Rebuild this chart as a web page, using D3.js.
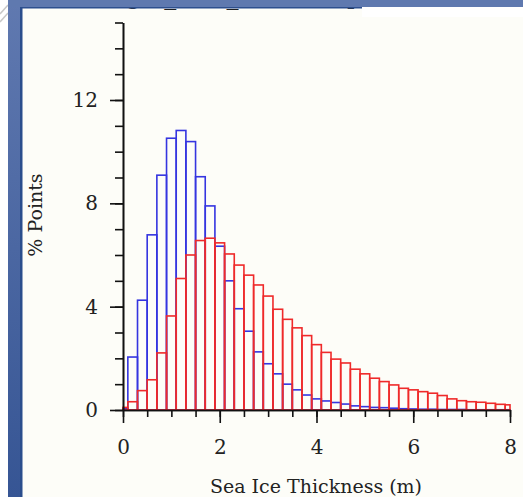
<!DOCTYPE html>
<html>
<head>
<meta charset="utf-8">
<script src="https://cdn.jsdelivr.net/npm/d3@7"></script>
<style>
  body { margin: 0; background: #fff; }
  svg { display: block; }
</style>
</head>
<body>
<div id="main"></div>
<script>
// histogram bins: centres every 0.2 m, from 0 to 8
var binCentres = d3.range(41).map(function (k) { return +(k * 0.2).toFixed(1); });
var bluePct = [0.05, 2.05, 4.25, 6.78, 9.09, 10.52, 10.82, 10.39, 9.03, 7.9,
  6.34, 5.0, 3.92, 3.05, 2.25, 1.79, 1.40, 1.00, 0.78, 0.58,
  0.43, 0.35, 0.29, 0.23, 0.16, 0.13, 0.10, 0.09, 0.07, 0.05,
  0.04, 0.03, 0.03, 0.02, 0.02, 0.02, 0.01, 0.01, 0.01, 0.01, 0.01];
var redPct = [0.10, 0.32, 0.75, 1.17, 2.21, 3.64, 5.09, 6.00, 6.56, 6.65,
  6.47, 6.04, 5.61, 5.22, 4.84, 4.41, 3.90, 3.51, 3.18, 2.88,
  2.53, 2.23, 1.97, 1.82, 1.58, 1.40, 1.23, 1.10, 0.97, 0.84,
  0.78, 0.71, 0.65, 0.56, 0.43, 0.36, 0.32, 0.30, 0.26, 0.22, 0.20];
var xMajorTicks = [0, 2, 4, 6, 8];
var yMajorTicks = [0, 4, 8, 12];
var titleText = "Avg h_CS2_ICE Comp";
var xTitle = "Sea Ice Thickness (m)";
var yTitle = "% Points";

var width = 523, height = 497;
var svg = d3.select("#main").append("svg")
  .attr("width", width).attr("height", height);

var fontFam = "'DejaVu Serif', serif";
var binW = 0.2;

// panel background
svg.append("rect")
  .attr("x", 22).attr("y", 0).attr("width", width - 22).attr("height", height)
  .style("fill", "#fdfdf8");
svg.append("rect")
  .attr("x", 362).attr("y", 7).attr("width", width - 362).attr("height", 10)
  .style("fill", "#ffffff");

var x = d3.scaleLinear().domain([0, 8]).range([123, 510]);
var y = d3.scaleLinear().domain([0, 15]).range([410, 22.5]);

// title (mostly hidden under the frame)
svg.append("text")
  .text(titleText)
  .attr("x", 96).attr("y", 4)
  .style("font-family", fontFam)
  .style("font-size", "24px")
  .attr("fill", "#222");

function drawHist(values, colour) {
  var g = svg.append("g");
  g.selectAll("rect")
    .data(values.map(function (v, i) { return {c: binCentres[i], v: v}; }))
    .enter().append("rect")
    .attr("x", function (d) { return x(Math.max(0, d.c - binW / 2)); })
    .attr("width", function (d) {
      return x(Math.min(8, d.c + binW / 2)) - x(Math.max(0, d.c - binW / 2));
    })
    .attr("y", function (d) { return y(d.v); })
    .attr("height", function (d) { return y(0) - y(d.v); })
    .style("fill", "none")
    .style("stroke", colour)
    .style("stroke-width", 1.6);
}
drawHist(bluePct, "#3535e0");
drawHist(redPct, "#ef2a2a");

// axes
function styleAxis(g) {
  g.selectAll("path, line").style("stroke", "#111").style("stroke-width", 1.6);
  g.selectAll("text")
    .style("font-family", fontFam)
    .style("font-size", "20px")
    .attr("fill", "#222");
}

var yMinor = svg.append("g").attr("transform", "translate(123,0)")
  .call(d3.axisLeft(y).tickValues(d3.range(0, 16)).tickSize(8).tickSizeOuter(0).tickFormat(""));
var yMajor = svg.append("g").attr("transform", "translate(123,0)")
  .call(d3.axisLeft(y).tickValues(yMajorTicks).tickSize(13).tickSizeOuter(0).tickPadding(12));
var xMinor = svg.append("g").attr("transform", "translate(0,410)")
  .call(d3.axisBottom(x).tickValues(d3.range(0, 8.01, 0.5)).tickSize(7).tickSizeOuter(0).tickFormat(""));
var xMajor = svg.append("g").attr("transform", "translate(0,410)")
  .call(d3.axisBottom(x).tickValues(xMajorTicks).tickSize(13).tickSizeOuter(0).tickPadding(17));
[yMinor, yMajor, xMinor, xMajor].forEach(styleAxis);

svg.append("text")
  .text(xTitle)
  .attr("x", 316).attr("y", 493)
  .attr("text-anchor", "middle")
  .style("font-family", fontFam)
  .style("font-size", "19px")
  .attr("fill", "#222");
svg.append("text")
  .text(yTitle)
  .attr("transform", "translate(42,215) rotate(-90)")
  .attr("text-anchor", "middle")
  .style("font-family", fontFam)
  .style("font-size", "19px")
  .attr("fill", "#222");

// slide frame
var defs = svg.append("defs");
var grad = defs.append("linearGradient").attr("id", "frameGrad")
  .attr("x1", 0).attr("y1", 0).attr("x2", 0).attr("y2", 1);
grad.append("stop").attr("offset", 0).attr("stop-color", "#6079b0");
grad.append("stop").attr("offset", 1).attr("stop-color", "#365594");

svg.append("rect").attr("x", 0).attr("y", 0).attr("width", 8).attr("height", height)
  .style("fill", "#ffffff");
[[0, 14, 8, 5], [0, 22, 8, 13]].forEach(function (s) {
  svg.append("line")
    .attr("x1", s[0]).attr("y1", s[1]).attr("x2", s[2]).attr("y2", s[3])
    .style("stroke", "#c8c8c8").style("stroke-width", 1.5);
});
svg.append("rect").attr("x", 8).attr("y", 0).attr("width", 14).attr("height", height)
  .style("fill", "url(#frameGrad)");
svg.append("rect").attr("x", 8).attr("y", 0).attr("width", width - 8).attr("height", 7)
  .style("fill", "#5f79af");
svg.append("rect").attr("x", 20).attr("y", 7).attr("width", 342).attr("height", 1.5)
  .style("fill", "#2d4f8e");
svg.append("rect").attr("x", 20).attr("y", 7).attr("width", 2.5).attr("height", height)
  .style("fill", "#2b4e8d");
</script>
</body>
</html>
